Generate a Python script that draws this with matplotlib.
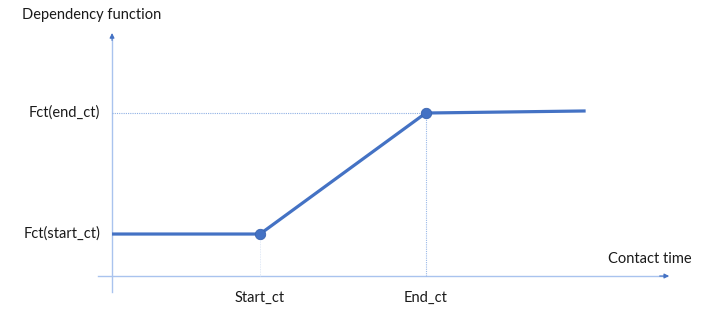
import matplotlib.pyplot as plt

# contact time (relative units) and dependency function values
contact_time = [0.0, 1.0, 2.12, 3.2]
fct = [1.0, 1.0, 2.0, 2.017]
start_ct, end_ct = contact_time[1], contact_time[2]
fct_start, fct_end = fct[1], fct[2]

x_ticks = [start_ct, end_ct]
x_tick_labels = ["Start_ct", "End_ct"]
y_ticks = [fct_start, fct_end]
y_tick_labels = ["Fct(start_ct)", "Fct(end_ct)"]

line_col = "#4472c4"
axis_col = "#a9c3ee"
font = "Lato"
fs = 10.5

fig = plt.figure(figsize=(7.07, 3.18), dpi=100)
ax = fig.add_axes([0, 0, 1, 1])
ax.set_xlim(-0.757, 4.02)
ax.set_ylim(0.306, 2.934)
ax.axis("off")

x_axis_y = 0.653
# axes with arrows
ax.plot([-0.095, 3.75], [x_axis_y, x_axis_y], color=axis_col, lw=1.0, zorder=1)
ax.plot([0, 0], [0.521, 2.64], color=axis_col, lw=1.0, zorder=1)
ax.annotate("", xy=(3.764, x_axis_y), xytext=(3.70, x_axis_y),
            arrowprops=dict(arrowstyle="-|>", color=line_col, lw=0.8,
                            mutation_scale=7, shrinkA=0, shrinkB=0))
ax.annotate("", xy=(0, 2.661), xytext=(0, 2.60),
            arrowprops=dict(arrowstyle="-|>", color=line_col, lw=0.8,
                            mutation_scale=7, shrinkA=0, shrinkB=0))

# dotted guide lines
ax.plot([0, end_ct], [fct_end, fct_end], color="#8fb0e4", lw=0.8, ls=(0, (1, 1)), zorder=1)
ax.plot([end_ct, end_ct], [x_axis_y, fct_end], color="#9ab8e8", lw=0.8, ls=(0, (1, 1)), zorder=1)
ax.plot([start_ct, start_ct], [x_axis_y, fct_start], color="#d8e3f5", lw=0.6, ls=(0, (1, 1)), zorder=1)

# function line
ax.plot(contact_time, fct, color=line_col, lw=2.3, solid_capstyle="butt", zorder=3)
ax.plot([start_ct, end_ct], [fct_start, fct_end], "o", color=line_col,
        markersize=7.5, markeredgecolor="#3a64b0", markeredgewidth=0.6, zorder=4)

# labels
for x, lab in zip(x_ticks, x_tick_labels):
    ax.text(x, 0.475, lab, ha="center", va="center", fontsize=fs, family=font, color="#1a1a1a")
for y, lab in zip(y_ticks, y_tick_labels):
    ax.text(-0.08, y, lab, ha="right", va="center", fontsize=fs, family=font, color="#1a1a1a")
ax.text(-0.61, 2.81, "Dependency function", ha="left", va="center", fontsize=fs, family=font, color="#1a1a1a")
ax.text(3.35, 0.79, "Contact time", ha="left", va="center", fontsize=fs, family=font, color="#1a1a1a")

fig.savefig("out.png", dpi=100)
